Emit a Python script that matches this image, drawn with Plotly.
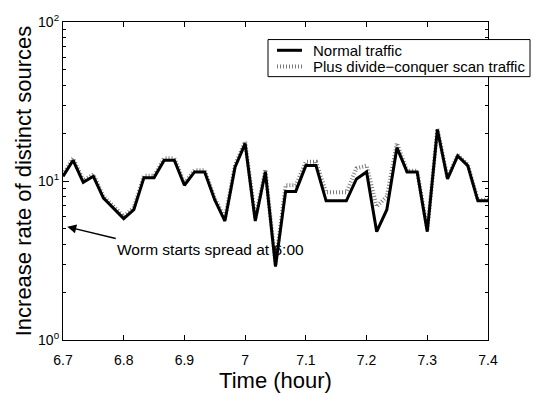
import numpy as np
import plotly.graph_objects as go

# time in hours (1-minute samples from 6.7 to 7.4)
minutes = list(range(43))
time_h = [6.7 + m / 60 for m in minutes]

normal = [10.7, 13.5, 9.8, 10.7, 7.8, 6.7, 5.8, 6.6, 10.5, 10.5,
          13.5, 13.5, 9.4, 11.4, 11.4, 7.6, 5.6, 12.2, 17.2, 5.6,
          11.4, 2.9, 8.6, 8.6, 12.5, 12.5, 7.5, 7.5, 7.5, 10.3,
          11.4, 4.8, 6.6, 16.2, 11.4, 11.4, 4.8, 21.1, 10.3, 14.4,
          12.5, 7.5, 7.5]

plus_scan = [11.0, 13.9, 10.1, 11.0, 8.0, 6.9, 6.0, 6.8, 10.8, 10.8,
             13.9, 13.9, 9.7, 11.7, 11.7, 7.8, 5.8, 12.6, 17.7, 5.8,
             11.8, 3.0, 9.4, 9.4, 13.2, 13.2, 8.5, 8.5, 8.5, 12.0,
             12.5, 6.9, 8.0, 17.3, 11.6, 11.6, 4.9, 21.4, 10.5, 14.6,
             12.7, 7.6, 7.6]

series_names = ["Normal traffic", "Plus divide\u2212conquer scan traffic"]

xticks = [6.7, 6.8, 6.9, 7.0, 7.1, 7.2, 7.3, 7.4]
xticklabels = ["6.7", "6.8", "6.9", "7", "7.1", "7.2", "7.3", "7.4"]
yticks = [1, 10, 100]
yticklabels = ["10<sup>0</sup>", "10<sup>1</sup>", "10<sup>2</sup>"]
yminor = [k * d for d in (1, 10) for k in range(2, 10)]

FONT = "Liberation Sans, Arial, Helvetica, sans-serif"
W, H = 534, 395
ML, MR, MT, MB = 63, 46, 16, 53
PW, PH = W - ML - MR, H - MT - MB


def px(xp):
    return (xp - ML) / PW


def py(yp):
    return (H - MB - yp) / PH


DOT = dict(color="#777777", width=4, dash="1px,2px")
SOLID = dict(color="black", width=3)

fig = go.Figure()
fig.add_trace(go.Scatter(x=time_h, y=plus_scan, mode="lines",
                         name=series_names[1], line=DOT, showlegend=False))
fig.add_trace(go.Scatter(x=time_h, y=normal, mode="lines",
                         name=series_names[0], line=SOLID, showlegend=False))

fig.update_layout(
    width=W, height=H,
    margin=dict(l=ML, r=MR, t=MT, b=MB),
    paper_bgcolor="white", plot_bgcolor="white",
    font=dict(family=FONT, color="black", size=14),
    showlegend=False,
    xaxis=dict(range=[6.7, 7.4], tickvals=xticks, ticktext=xticklabels,
               ticks="inside", ticklen=5, tickcolor="black",
               showline=True, linecolor="black", linewidth=1.2,
               mirror="allticks", showgrid=False, zeroline=False,
               tickfont=dict(size=14), ticklabelstandoff=7,
               title=dict(text="Time (hour)", font=dict(size=22), standoff=0)),
    yaxis=dict(type="log", range=[0, 2], tickvals=yticks, ticktext=yticklabels,
               ticks="inside", ticklen=6, tickcolor="black",
               showline=True, linecolor="black", linewidth=1.2,
               mirror="allticks", showgrid=False, zeroline=False,
               tickfont=dict(size=14),
               minor=dict(tickvals=yminor, ticks="inside", ticklen=3,
                          tickcolor="black", showgrid=False),
               title=dict(text="Increase rate of distinct sources",
                          font=dict(size=22), standoff=0)),
)

# legend drawn manually
fig.add_shape(type="rect", xref="paper", yref="paper",
              x0=px(268), x1=px(530), y0=py(72), y1=py(34),
              line=dict(color="black", width=1), fillcolor="white",
              layer="above")
rows = [45, 61.5]
styles = [SOLID, DOT]
for name, yr, st in zip(series_names, rows, styles):
    fig.add_shape(type="line", xref="paper", yref="paper",
                  x0=px(277), x1=px(302), y0=py(yr), y1=py(yr),
                  line=st, layer="above")
    fig.add_annotation(x=px(311), y=py(yr), xref="paper", yref="paper",
                       xanchor="left", yanchor="middle", showarrow=False,
                       text=name, font=dict(size=15, family=FONT, color="black"))

# arrow
fig.add_annotation(x=6.707, y=np.log10(5.15), xref="x", yref="y",
                   ax=50, ay=12, axref="pixel", ayref="pixel",
                   showarrow=True, arrowhead=2, arrowsize=1.2,
                   arrowwidth=1.5, arrowcolor="black", text="")
fig.add_annotation(x=6.785, y=np.log10(3.72), xref="x", yref="y",
                   xanchor="left", yanchor="middle", showarrow=False,
                   text="Worm starts spread at 6:00",
                   font=dict(size=15.5, family=FONT, color="black"))

fig.write_html("out.html")
